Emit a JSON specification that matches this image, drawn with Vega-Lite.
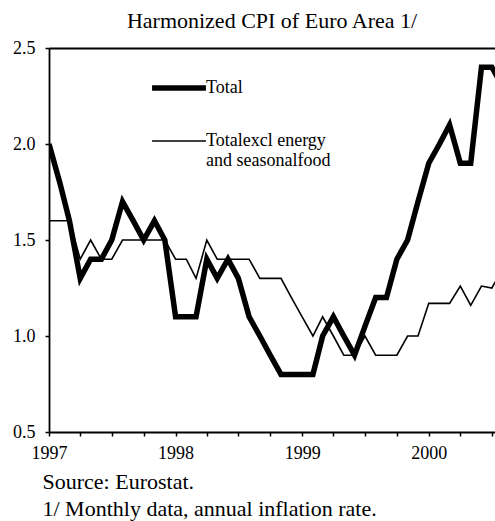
{
  "$schema": "https://vega.github.io/schema/vega-lite/v6.json",
  "width": 446,
  "height": 384,
  "autosize": {"type": "none"},
  "padding": {"left": 49, "top": 48, "right": 0, "bottom": 89},
  "background": "white",
  "title": {"text": "Harmonized CPI of Euro Area 1/", "font": "Liberation Serif", "fontSize": 22, "fontWeight": "normal", "color": "black", "anchor": "middle", "offset": 6},
  "data": {"values": [
    {"date": "1997-01-01", "series": "Total", "value": 2.0},
    {"date": "1997-02-01", "series": "Total", "value": 1.8},
    {"date": "1997-03-01", "series": "Total", "value": 1.6},
    {"date": "1997-04-01", "series": "Total", "value": 1.3},
    {"date": "1997-05-01", "series": "Total", "value": 1.4},
    {"date": "1997-06-01", "series": "Total", "value": 1.4},
    {"date": "1997-07-01", "series": "Total", "value": 1.5},
    {"date": "1997-08-01", "series": "Total", "value": 1.7},
    {"date": "1997-09-01", "series": "Total", "value": 1.6},
    {"date": "1997-10-01", "series": "Total", "value": 1.5},
    {"date": "1997-11-01", "series": "Total", "value": 1.6},
    {"date": "1997-12-01", "series": "Total", "value": 1.5},
    {"date": "1998-01-01", "series": "Total", "value": 1.1},
    {"date": "1998-02-01", "series": "Total", "value": 1.1},
    {"date": "1998-03-01", "series": "Total", "value": 1.1},
    {"date": "1998-04-01", "series": "Total", "value": 1.4},
    {"date": "1998-05-01", "series": "Total", "value": 1.3},
    {"date": "1998-06-01", "series": "Total", "value": 1.4},
    {"date": "1998-07-01", "series": "Total", "value": 1.3},
    {"date": "1998-08-01", "series": "Total", "value": 1.1},
    {"date": "1998-09-01", "series": "Total", "value": 1.0},
    {"date": "1998-10-01", "series": "Total", "value": 0.9},
    {"date": "1998-11-01", "series": "Total", "value": 0.8},
    {"date": "1998-12-01", "series": "Total", "value": 0.8},
    {"date": "1999-01-01", "series": "Total", "value": 0.8},
    {"date": "1999-02-01", "series": "Total", "value": 0.8},
    {"date": "1999-03-01", "series": "Total", "value": 1.0},
    {"date": "1999-04-01", "series": "Total", "value": 1.1},
    {"date": "1999-05-01", "series": "Total", "value": 1.0},
    {"date": "1999-06-01", "series": "Total", "value": 0.9},
    {"date": "1999-07-01", "series": "Total", "value": 1.05},
    {"date": "1999-08-01", "series": "Total", "value": 1.2},
    {"date": "1999-09-01", "series": "Total", "value": 1.2},
    {"date": "1999-10-01", "series": "Total", "value": 1.4},
    {"date": "1999-11-01", "series": "Total", "value": 1.5},
    {"date": "1999-12-01", "series": "Total", "value": 1.7},
    {"date": "2000-01-01", "series": "Total", "value": 1.9},
    {"date": "2000-02-01", "series": "Total", "value": 2.0},
    {"date": "2000-03-01", "series": "Total", "value": 2.1},
    {"date": "2000-04-01", "series": "Total", "value": 1.9},
    {"date": "2000-05-01", "series": "Total", "value": 1.9},
    {"date": "2000-06-01", "series": "Total", "value": 2.4},
    {"date": "2000-07-01", "series": "Total", "value": 2.4},
    {"date": "2000-08-01", "series": "Total", "value": 2.3},
    {"date": "1997-01-01", "series": "Totalexcl energy and seasonalfood", "value": 1.6},
    {"date": "1997-02-01", "series": "Totalexcl energy and seasonalfood", "value": 1.6},
    {"date": "1997-03-01", "series": "Totalexcl energy and seasonalfood", "value": 1.6},
    {"date": "1997-04-01", "series": "Totalexcl energy and seasonalfood", "value": 1.4},
    {"date": "1997-05-01", "series": "Totalexcl energy and seasonalfood", "value": 1.5},
    {"date": "1997-06-01", "series": "Totalexcl energy and seasonalfood", "value": 1.4},
    {"date": "1997-07-01", "series": "Totalexcl energy and seasonalfood", "value": 1.4},
    {"date": "1997-08-01", "series": "Totalexcl energy and seasonalfood", "value": 1.5},
    {"date": "1997-09-01", "series": "Totalexcl energy and seasonalfood", "value": 1.5},
    {"date": "1997-10-01", "series": "Totalexcl energy and seasonalfood", "value": 1.5},
    {"date": "1997-11-01", "series": "Totalexcl energy and seasonalfood", "value": 1.5},
    {"date": "1997-12-01", "series": "Totalexcl energy and seasonalfood", "value": 1.5},
    {"date": "1998-01-01", "series": "Totalexcl energy and seasonalfood", "value": 1.4},
    {"date": "1998-02-01", "series": "Totalexcl energy and seasonalfood", "value": 1.4},
    {"date": "1998-03-01", "series": "Totalexcl energy and seasonalfood", "value": 1.3},
    {"date": "1998-04-01", "series": "Totalexcl energy and seasonalfood", "value": 1.5},
    {"date": "1998-05-01", "series": "Totalexcl energy and seasonalfood", "value": 1.4},
    {"date": "1998-06-01", "series": "Totalexcl energy and seasonalfood", "value": 1.4},
    {"date": "1998-07-01", "series": "Totalexcl energy and seasonalfood", "value": 1.4},
    {"date": "1998-08-01", "series": "Totalexcl energy and seasonalfood", "value": 1.4},
    {"date": "1998-09-01", "series": "Totalexcl energy and seasonalfood", "value": 1.3},
    {"date": "1998-10-01", "series": "Totalexcl energy and seasonalfood", "value": 1.3},
    {"date": "1998-11-01", "series": "Totalexcl energy and seasonalfood", "value": 1.3},
    {"date": "1998-12-01", "series": "Totalexcl energy and seasonalfood", "value": 1.2},
    {"date": "1999-01-01", "series": "Totalexcl energy and seasonalfood", "value": 1.1},
    {"date": "1999-02-01", "series": "Totalexcl energy and seasonalfood", "value": 1.0},
    {"date": "1999-03-01", "series": "Totalexcl energy and seasonalfood", "value": 1.1},
    {"date": "1999-04-01", "series": "Totalexcl energy and seasonalfood", "value": 1.0},
    {"date": "1999-05-01", "series": "Totalexcl energy and seasonalfood", "value": 0.9},
    {"date": "1999-06-01", "series": "Totalexcl energy and seasonalfood", "value": 0.9},
    {"date": "1999-07-01", "series": "Totalexcl energy and seasonalfood", "value": 1.0},
    {"date": "1999-08-01", "series": "Totalexcl energy and seasonalfood", "value": 0.9},
    {"date": "1999-09-01", "series": "Totalexcl energy and seasonalfood", "value": 0.9},
    {"date": "1999-10-01", "series": "Totalexcl energy and seasonalfood", "value": 0.9},
    {"date": "1999-11-01", "series": "Totalexcl energy and seasonalfood", "value": 1.0},
    {"date": "1999-12-01", "series": "Totalexcl energy and seasonalfood", "value": 1.0},
    {"date": "2000-01-01", "series": "Totalexcl energy and seasonalfood", "value": 1.17},
    {"date": "2000-02-01", "series": "Totalexcl energy and seasonalfood", "value": 1.17},
    {"date": "2000-03-01", "series": "Totalexcl energy and seasonalfood", "value": 1.17},
    {"date": "2000-04-01", "series": "Totalexcl energy and seasonalfood", "value": 1.26},
    {"date": "2000-05-01", "series": "Totalexcl energy and seasonalfood", "value": 1.16},
    {"date": "2000-06-01", "series": "Totalexcl energy and seasonalfood", "value": 1.26},
    {"date": "2000-07-01", "series": "Totalexcl energy and seasonalfood", "value": 1.25},
    {"date": "2000-08-01", "series": "Totalexcl energy and seasonalfood", "value": 1.35}
  ]},
  "encoding": {
    "y": {"field": "value", "type": "quantitative",
      "scale": {"domain": [0.5, 2.5], "nice": false, "zero": false},
      "axis": {"values": [0.5, 1.0, 1.5, 2.0, 2.5], "format": ".1f", "title": null, "grid": false,
        "labelFont": "Liberation Serif", "labelFontSize": 18, "labelColor": "black", "labelPadding": 10,
        "tickSize": 4, "tickWidth": 1.5, "tickColor": "black", "domainColor": "black", "domainWidth": 1.8}},
    "strokeWidth": {"field": "series", "type": "nominal",
      "scale": {"domain": ["Total", "Totalexcl energy and seasonalfood"], "range": [5.5, 1.6]},
      "legend": {"orient": "none", "legendX": 100, "legendY": 10, "title": null,
        "symbolType": "stroke", "symbolSize": 2900, "symbolStrokeColor": "black",
        "labelFont": "Liberation Serif", "labelFontSize": 18, "labelColor": "black", "labelOffset": -3,
        "labelLineHeight": 22, "rowPadding": 14,
        "labelExpr": "datum.label == 'Total' ? 'Total' : ['Totalexcl energy', 'and seasonalfood']"}}
  },
  "layer": [
    {
      "transform": [{"filter": "datum.series == 'Total'"}],
      "mark": {"type": "line", "color": "black", "clip": true, "strokeJoin": "miter"},
      "encoding": {
        "x": {"field": "date", "type": "temporal",
          "scale": {"type": "utc", "domain": [{"year": 1997, "month": 1, "date": 1, "utc": true}, {"year": 2000, "month": 7, "date": 10, "utc": true}], "nice": false},
          "axis": {"orient": "bottom", "tickCount": {"interval": "month", "step": 3}, "grid": false,
            "labelExpr": "utcmonth(datum.value) == 0 ? utcFormat(datum.value, '%Y') : ''",
            "labelOverlap": false, "labelFlush": false, "labelBound": false,
            "labelFont": "Liberation Serif", "labelFontSize": 18, "labelColor": "black", "labelPadding": 8,
            "tickSize": 4, "tickWidth": 1.5, "tickColor": "black", "domainColor": "black", "domainWidth": 1.8,
            "title": ["Source: Eurostat.", "1/ Monthly data, annual inflation rate."],
            "titleFont": "Liberation Serif", "titleFontSize": 22, "titleFontWeight": "normal", "titleColor": "black",
            "titleAnchor": "start", "titleAlign": "left", "titleBaseline": "alphabetic",
            "titleLineHeight": 27, "titleX": -7, "titleY": 56}}
      }
    },
    {
      "transform": [{"filter": "datum.series != 'Total'"}],
      "mark": {"type": "line", "color": "black", "clip": true, "strokeJoin": "miter"},
      "encoding": {
        "x": {"field": "date", "type": "temporal",
          "axis": {"orient": "top", "labels": false, "ticks": false, "title": null, "grid": false,
            "domainColor": "black", "domainWidth": 1.8}}
      }
    }
  ],
  "resolve": {"axis": {"x": "independent"}},
  "config": {"view": {"stroke": null}, "font": "Liberation Serif"}
}
